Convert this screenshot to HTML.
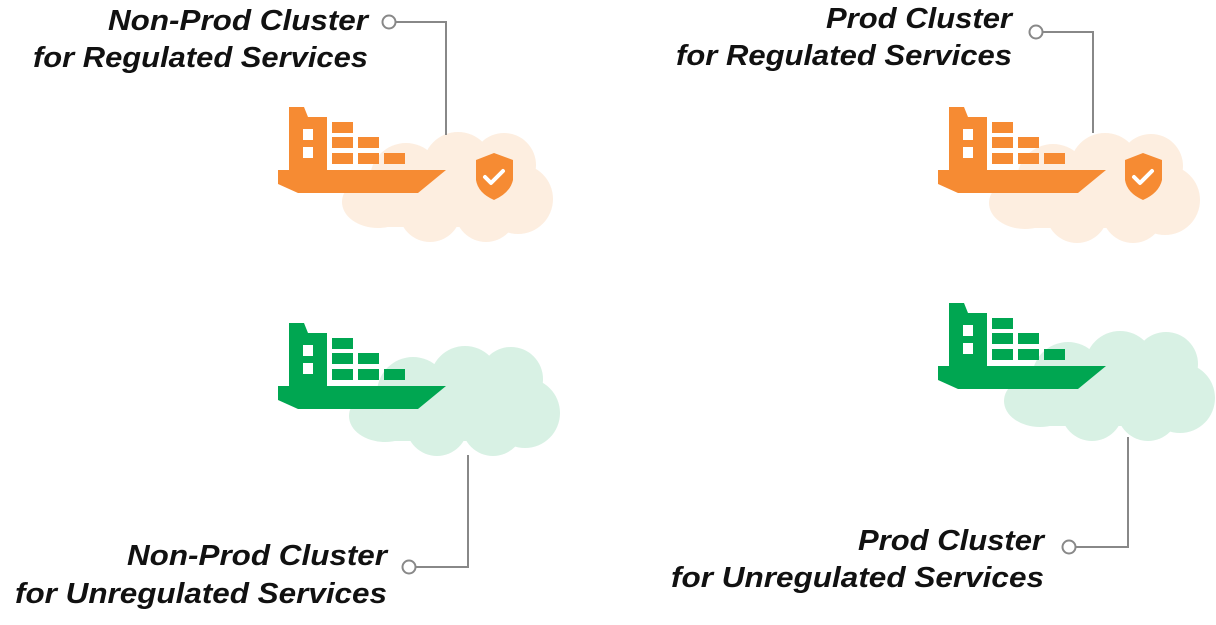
<!DOCTYPE html>
<html><head><meta charset="utf-8"><style>
html,body{margin:0;padding:0;background:#fff;}
svg{display:block;}
text{font-family:"Liberation Sans",sans-serif;font-style:italic;font-weight:bold;font-size:29px;fill:#111;}
</style></head><body>
<svg width="1216" height="625" viewBox="0 0 1216 625" xmlns="http://www.w3.org/2000/svg">
<defs>
<g id="cloud">
  <ellipse cx="40" cy="75" rx="36" ry="26"/>
  <circle cx="68" cy="52" r="36"/>
  <circle cx="120" cy="40" r="35"/>
  <circle cx="166" cy="38" r="32"/>
  <circle cx="180" cy="72" r="35"/>
  <circle cx="92" cy="84" r="31"/>
  <circle cx="148" cy="84" r="31"/>
  <rect x="40" y="50" width="140" height="50"/>
</g>
<g id="ship">
  <polygon points="289,107 304,107 308,117 327,117 327,171 289,171"/>
  <rect x="332" y="122" width="21" height="11"/>
  <rect x="332" y="137" width="21" height="11"/>
  <rect x="358" y="137" width="21" height="11"/>
  <rect x="332" y="153" width="21" height="11"/>
  <rect x="358" y="153" width="21" height="11"/>
  <rect x="384" y="153" width="21" height="11"/>
  <polygon points="278,170 446,170 418,193 298,193 278,184"/>
</g>
<g id="shield">
  <path d="M494,153 L513,160 L513,180 Q510,193 494,200 Q478,193 476,180 L476,160 Z" fill="#f68b33"/>
  <polyline points="485,177 491,183 503,171" fill="none" stroke="#fff" stroke-width="4" stroke-linecap="round" stroke-linejoin="round"/>
</g>
</defs>

<!-- clouds -->
<use href="#cloud" transform="translate(338,127)" fill="#fdeee0"/>
<use href="#cloud" transform="translate(985,128)" fill="#fdeee0"/>
<use href="#cloud" transform="translate(345,341)" fill="#d8f1e4"/>
<use href="#cloud" transform="translate(1000,326)" fill="#d8f1e4"/>

<!-- connectors -->
<g fill="none" stroke="#888" stroke-width="2">
  <polyline points="396,22 446,22 446,135"/>
  <circle cx="389" cy="22" r="6.5" fill="#fff"/>
  <polyline points="1043,32 1093,32 1093,133"/>
  <circle cx="1036" cy="32" r="6.5" fill="#fff"/>
  <polyline points="416,567 468,567 468,455"/>
  <circle cx="409" cy="567" r="6.5" fill="#fff"/>
  <polyline points="1076,547 1128,547 1128,437"/>
  <circle cx="1069" cy="547" r="6.5" fill="#fff"/>
</g>

<!-- ships -->
<g fill="#f68b33"><use href="#ship"/></g>
<g fill="#f68b33"><use href="#ship" transform="translate(660,0)"/></g>
<g fill="#00a651"><use href="#ship" transform="translate(0,216)"/></g>
<g fill="#00a651"><use href="#ship" transform="translate(660,196)"/></g>
<g fill="#fff">
  <rect x="303" y="129" width="10" height="11"/><rect x="303" y="147" width="10" height="11"/>
  <rect x="963" y="129" width="10" height="11"/><rect x="963" y="147" width="10" height="11"/>
  <rect x="303" y="345" width="10" height="11"/><rect x="303" y="363" width="10" height="11"/>
  <rect x="963" y="325" width="10" height="11"/><rect x="963" y="343" width="10" height="11"/>
</g>

<!-- shields -->
<use href="#shield"/>
<use href="#shield" transform="translate(649,0)"/>

<!-- labels -->
<text x="368" y="30" text-anchor="end" textLength="260" lengthAdjust="spacingAndGlyphs">Non-Prod Cluster</text>
<text x="368" y="67" text-anchor="end" textLength="335" lengthAdjust="spacingAndGlyphs">for Regulated Services</text>
<text x="1012" y="28" text-anchor="end" textLength="186" lengthAdjust="spacingAndGlyphs">Prod Cluster</text>
<text x="1012" y="65" text-anchor="end" textLength="336" lengthAdjust="spacingAndGlyphs">for Regulated Services</text>
<text x="387" y="565" text-anchor="end" textLength="260" lengthAdjust="spacingAndGlyphs">Non-Prod Cluster</text>
<text x="387" y="603" text-anchor="end" textLength="372" lengthAdjust="spacingAndGlyphs">for Unregulated Services</text>
<text x="1044" y="550" text-anchor="end" textLength="186" lengthAdjust="spacingAndGlyphs">Prod Cluster</text>
<text x="1044" y="587" text-anchor="end" textLength="373" lengthAdjust="spacingAndGlyphs">for Unregulated Services</text>
</svg>
</body></html>
